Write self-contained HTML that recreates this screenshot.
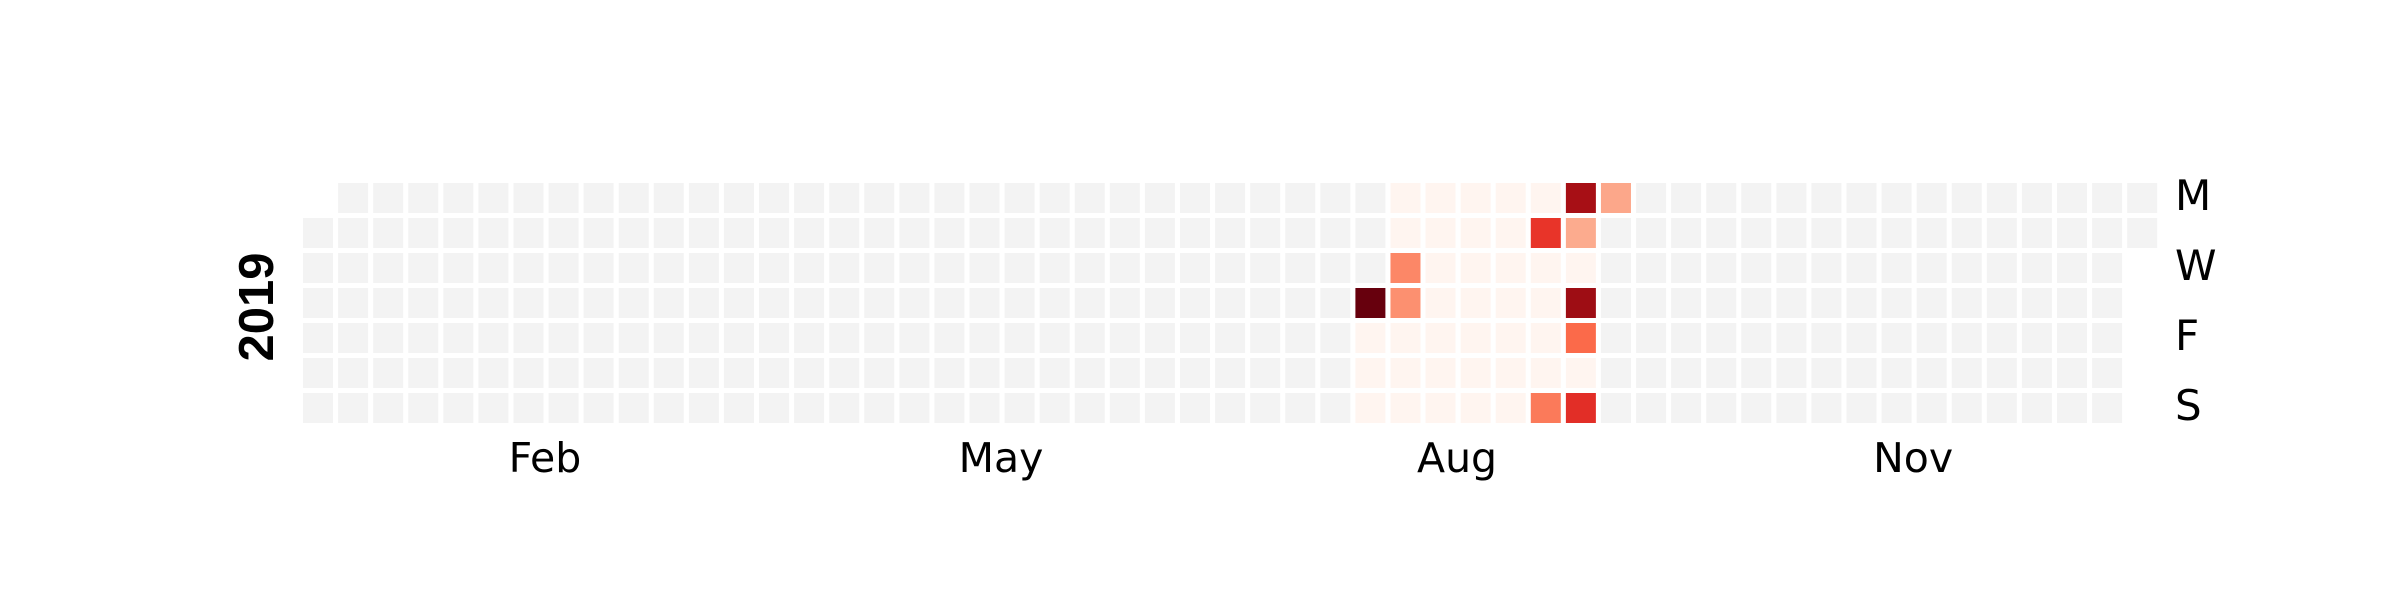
<!DOCTYPE html>
<html><head><meta charset="utf-8"><style>
html,body{margin:0;padding:0;background:#fff;}
svg{display:block;}
text{font-family:"DejaVu Sans","Liberation Sans",sans-serif;}
</style></head><body>
<svg id="chart" width="2400" height="600" viewBox="0 0 2400 600" xmlns="http://www.w3.org/2000/svg">
<text x="0" y="0" transform="translate(273,307) rotate(-90)" text-anchor="middle" font-size="49" font-weight="bold" style="font-family:'Liberation Sans',sans-serif" fill="#000">2019</text>
<g id="cells"></g>
<g id="labels"></g>
</svg>
<script>
const year = 2019;
const monthLabels = ["Feb", "May", "Aug", "Nov"];
const monthLabelCols = [6.47, 19.47, 32.47, 45.47];
const dayLabels = ["M", "W", "F", "S"];
const dayLabelRows = [0, 2, 4, 6];
// Week columns with recorded data (Mon..Sun); null = no data
const weekCols = [30, 31, 32, 33, 34, 35, 36, 37];
const weekVals = [
  [null, null, null, 100, 0, 0, 0],
  [0, 0, 41, 38, 0, 0, 0],
  [0, 0, 0, 0, 0, 0, 0],
  [0, 0, 0, 0, 0, 0, 0],
  [0, 0, 0, 0, 0, 0, 0],
  [0, 65, 0, 0, 0, 0, 45],
  [87, 30, 0, 89, 50, 0, 67],
  [31, null, null, null, null, null, null]
];
const X0 = 303, PITCH = 35.08, Y0 = 183, RP = 35, CS = 30;
const xOf = c => X0 + c * PITCH;
const yOf = r => Y0 + r * RP;
const stops = ["#fff5f0","#fee0d2","#fcbba1","#fc9272","#fb6a4a","#ef3b2c","#cb181d","#a50f15","#67000d"];
function hex(h){return [1,3,5].map(i=>parseInt(h.substr(i,2),16));}
function cmap(t){
  t=Math.max(0,Math.min(1,t));const p=t*8,i=Math.min(7,Math.floor(p)),f=p-i;
  const a=hex(stops[i]),b=hex(stops[i+1]);
  return "rgb("+a.map((v,k)=>Math.round(v+(b[k]-v)*f)).join(",")+")";
}
let vmax=0;weekVals.forEach(w=>w.forEach(v=>{if(v!==null&&v>vmax)vmax=v;}));
const lookup={};weekCols.forEach((c,i)=>{lookup[c]=weekVals[i];});
const NS="http://www.w3.org/2000/svg";
const cells=document.getElementById("cells");
const jan1=new Date(year,0,1);
const startDow=(jan1.getDay()+6)%7;
const ndays=365;
for(let d=0;d<ndays;d++){
  const idx=d+startDow,col=Math.floor(idx/7),row=idx%7;
  let v=null;if(lookup[col])v=lookup[col][row];
  const r=document.createElementNS(NS,"rect");
  r.setAttribute("x",xOf(col));r.setAttribute("y",yOf(row));
  r.setAttribute("width",CS);r.setAttribute("height",CS);
  r.setAttribute("fill",v===null?"#f3f3f3":cmap(v/vmax));
  
  
  cells.appendChild(r);
}
const labels=document.getElementById("labels");
monthLabels.forEach((m,i)=>{
  const t=document.createElementNS(NS,"text");
  t.setAttribute("x",xOf(monthLabelCols[i])+CS/2);t.setAttribute("y",472);
  t.setAttribute("text-anchor","middle");t.setAttribute("font-size","41");
  t.textContent=m;
  
  
  labels.appendChild(t);
});
dayLabels.forEach((m,i)=>{
  const t=document.createElementNS(NS,"text");
  t.setAttribute("x",2175);t.setAttribute("y",yOf(dayLabelRows[i])+CS/2+12);
  t.setAttribute("font-size","42");
  t.textContent=m;
  
  
  labels.appendChild(t);
});
</script>
</body></html>
